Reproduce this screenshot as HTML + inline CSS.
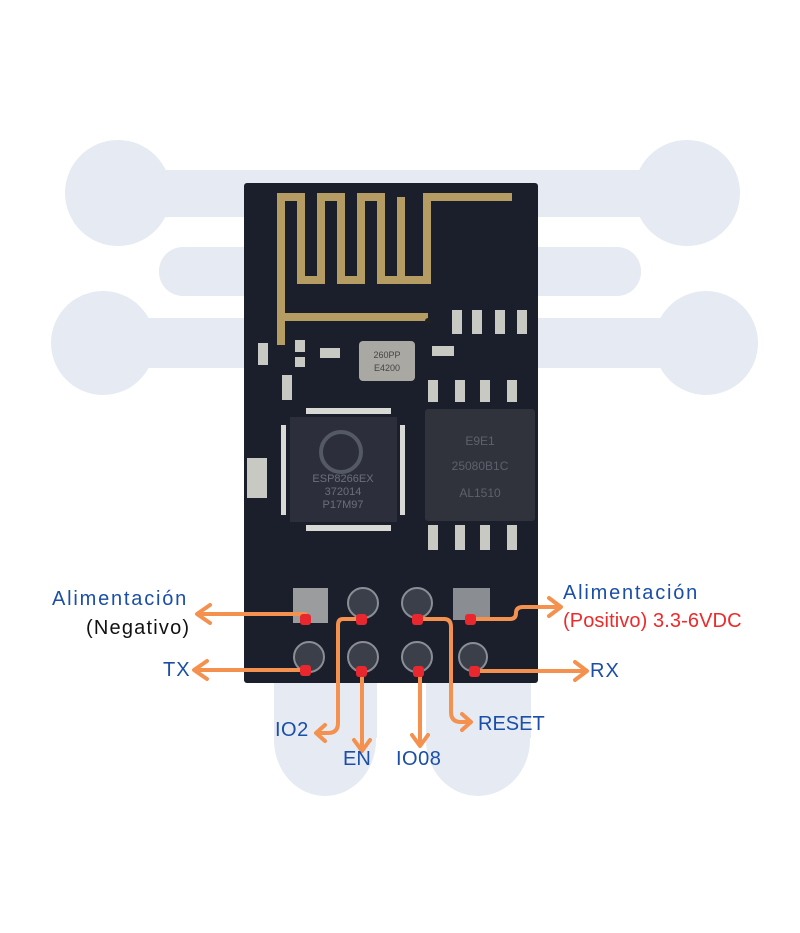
<!DOCTYPE html>
<html><head><meta charset="utf-8"><style>
html,body{margin:0;padding:0;background:#fff;}
svg{display:block}
text{font-family:"Liberation Sans",sans-serif;}
</style></head><body>
<svg width="800" height="933" viewBox="0 0 800 933" xmlns="http://www.w3.org/2000/svg">
<g fill="#e5eaf3">
<rect x="110" y="170" width="590" height="47"/>
<circle cx="118" cy="193" r="53"/><circle cx="687" cy="193" r="53"/>
<rect x="159" y="247" width="482" height="49" rx="24"/>
<rect x="100" y="318" width="610" height="50"/>
<circle cx="103" cy="343" r="52"/><circle cx="706" cy="343" r="52"/>
<ellipse cx="325" cy="740" rx="51" ry="56"/>
<ellipse cx="478" cy="740" rx="52" ry="56"/>
<rect x="274" y="683" width="103" height="55"/>
<rect x="426" y="683" width="105" height="55"/>
</g>
<rect x="244" y="183" width="294" height="500" rx="3" fill="#1b1e2b"/>
<path d="M281,345 V197 H301 V280 H321 V197 H341 V280 H361 V197 H381 V280 H401 V197 M401,197 V280 H427 V197 H512" fill="none" stroke="#b49c62" stroke-width="8" stroke-linejoin="miter"/>
<path d="M281,317 H428" stroke="#b49c62" stroke-width="8" fill="none"/>
<circle cx="428" cy="321" r="3" fill="#222"/>
<g fill="#c9c9c4">
<rect x="452" y="310" width="10" height="24"/><rect x="472" y="310" width="10" height="24"/><rect x="495" y="310" width="10" height="24"/><rect x="517" y="310" width="10" height="24"/>
<rect x="258" y="343" width="10" height="22"/><rect x="295" y="340" width="10" height="12"/><rect x="295" y="357" width="10" height="10"/>
<rect x="320" y="348" width="20" height="10"/><rect x="432" y="346" width="22" height="10"/>
<rect x="282" y="375" width="10" height="25"/>
<rect x="247" y="458" width="20" height="40"/>
<rect x="428" y="380" width="10" height="22"/><rect x="455" y="380" width="10" height="22"/><rect x="480" y="380" width="10" height="22"/><rect x="507" y="380" width="10" height="22"/>
<rect x="428" y="525" width="10" height="25"/><rect x="455" y="525" width="10" height="25"/><rect x="480" y="525" width="10" height="25"/><rect x="507" y="525" width="10" height="25"/>
</g>
<rect x="359" y="341" width="56" height="40" rx="4" fill="#a9a8a2"/>
<text x="387" y="358" font-size="9" fill="#444" text-anchor="middle">260PP</text>
<text x="387" y="371" font-size="9" fill="#444" text-anchor="middle">E4200</text>
<g fill="#d8d8d4">
<rect x="306" y="408" width="85" height="6"/>
<rect x="306" y="525" width="85" height="6"/>
<rect x="281" y="425" width="5" height="90"/>
<rect x="400" y="425" width="5" height="90"/>
</g>
<rect x="290" y="417" width="107" height="105" fill="#2c2f3b"/>
<circle cx="341" cy="452" r="20" fill="none" stroke="#555966" stroke-width="4"/>
<text x="343" y="482" font-size="11" fill="#6b6f7a" text-anchor="middle">ESP8266EX</text>
<text x="343" y="495" font-size="11" fill="#6b6f7a" text-anchor="middle">372014</text>
<text x="343" y="508" font-size="11" fill="#6b6f7a" text-anchor="middle">P17M97</text>
<rect x="425" y="409" width="110" height="112" rx="3" fill="#30323c"/>
<text x="480" y="445" font-size="12" fill="#5e616b" text-anchor="middle">E9E1</text>
<text x="480" y="470" font-size="12" fill="#5e616b" text-anchor="middle">25080B1C</text>
<text x="480" y="497" font-size="12" fill="#5e616b" text-anchor="middle">AL1510</text>
<rect x="293" y="588" width="35" height="35" fill="#9a9c9e"/>
<rect x="453" y="588" width="37" height="32" fill="#8a8d92"/>
<g fill="#3b3f4a" stroke="#8b8e95" stroke-width="2">
<circle cx="363" cy="603" r="15"/><circle cx="417" cy="603" r="15"/>
<circle cx="309" cy="657" r="15"/><circle cx="363" cy="657" r="15"/><circle cx="417" cy="657" r="15"/><circle cx="473" cy="657" r="14"/>
</g>
<g fill="none" stroke="#f5914f" stroke-width="4" stroke-linecap="round" stroke-linejoin="round">
<path d="M305,614 H198"/><path d="M210,605 L197,614 L210,623"/>
<path d="M305,670 H195"/><path d="M207,661 L194,670 L207,679"/>
<path d="M471,619 H510 Q516,619 516,613 Q516,607 523,607 H560"/><path d="M549,598 L561,607 L549,616"/>
<path d="M475,671 H586"/><path d="M575,662 L587,671 L575,680"/>
<path d="M362,619 H343 Q338,619 338,625 V723 Q338,733 328,733 H317"/><path d="M325,725 L316,733 L325,741"/>
<path d="M362,672 V750"/><path d="M354,740 L362,751 L370,740"/>
<path d="M420,672 V745"/><path d="M412,735 L420,746 L428,735"/>
<path d="M418,619 H444 Q451,619 451,627 V712 Q451,722 461,722 H470"/><path d="M462,714 L471,722 L462,730"/>
</g>
<g fill="#e8282e">
<rect x="300" y="614" width="11" height="11" rx="3"/><rect x="356" y="614" width="11" height="11" rx="3"/><rect x="412" y="614" width="11" height="11" rx="3"/><rect x="465" y="614" width="11" height="11" rx="3"/>
<rect x="300" y="665" width="11" height="11" rx="3"/><rect x="356" y="666" width="11" height="11" rx="3"/><rect x="413" y="666" width="11" height="11" rx="3"/><rect x="469" y="666" width="11" height="11" rx="3"/>
</g>
<g font-size="20" fill="#1a4ea8">
<text x="52" y="605" letter-spacing="1.8">Alimentación</text>
<text x="563" y="599" letter-spacing="1.8">Alimentación</text>
<text x="163" y="676" letter-spacing="1">TX</text>
<text x="590" y="677" letter-spacing="1">RX</text>
<text x="275" y="736" letter-spacing="0.5">IO2</text>
<text x="343" y="765">EN</text>
<text x="396" y="765" letter-spacing="0.5">IO08</text>
<text x="478" y="730">RESET</text>
</g>
<text x="86" y="634" font-size="20" fill="#111" letter-spacing="1.2">(Negativo)</text>
<text x="563" y="627" font-size="20" fill="#ee2a2a" letter-spacing="0.1">(Positivo) 3.3-6VDC</text>
</svg>
</body></html>
